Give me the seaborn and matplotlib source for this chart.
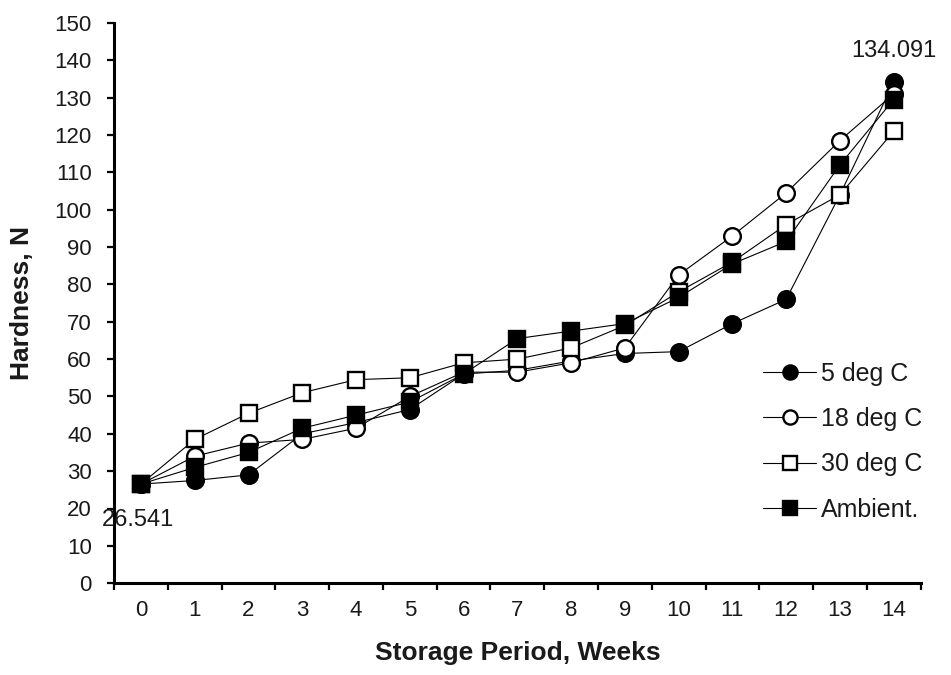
import numpy as np
import pandas as pd
import matplotlib
matplotlib.use('Agg')
import matplotlib.pyplot as plt
import seaborn as sns
from matplotlib.ticker import FixedLocator

weeks = list(range(15))
deg5 = [26.541, 27.5, 29, 40, 43, 46.5, 56, 57, 59.5, 61.5, 62, 69.5, 76, 104, 134.091]
deg18 = [26.541, 34, 37.5, 38.5, 41.5, 50, 56.5, 56.5, 59, 63, 82.5, 93, 104.5, 118.5, 131]
deg30 = [26.541, 38.5, 45.5, 51, 54.5, 55, 59, 60, 63, 69, 78, 86, 96, 104, 121]
ambient = [26.541, 31, 35, 41.5, 45, 48.5, 56, 65.5, 67.5, 69.5, 76.5, 85.5, 91.5, 112, 129.5]

series_names = ['5 deg C', '18 deg C', '30 deg C', 'Ambient.']
series_vals = [deg5, deg18, deg30, ambient]
markers = ['o', 'o', 's', 's']
faces = ['black', 'white', 'white', 'black']

sns.set_style('white')
plt.rcParams['font.family'] = ['Liberation Sans', 'DejaVu Sans']

fig = plt.figure(figsize=(9.51, 6.75), dpi=100)
ax = fig.add_axes([0.120, 0.136, 0.848, 0.830])

for name, vals, m, fc in zip(series_names, series_vals, markers, faces):
    sns.lineplot(x=weeks, y=vals, ax=ax, color='black', linewidth=0.8,
                 marker=m, markersize=12, markerfacecolor=fc,
                 markeredgecolor='black', markeredgewidth=1.7, label=name)

ax.set_xlim(-0.5, 14.5)
ax.set_ylim(0, 150)
ax.set_yticks(np.arange(0, 151, 10))
# excel style: ticks between categories, labels on categories
ax.xaxis.set_major_locator(FixedLocator(np.arange(-0.5, 15, 1)))
ax.xaxis.set_minor_locator(FixedLocator(weeks))
ax.set_xticklabels([])
ax.set_xticklabels([str(w) for w in weeks], minor=True)
ax.tick_params(axis='x', which='major', direction='out', length=5, width=1.6, color='black')
ax.tick_params(axis='x', which='minor', length=0, labelsize=16, pad=12, labelcolor='#1a1a1a')
ax.tick_params(axis='y', direction='out', length=5, width=1.6, color='black',
               labelsize=16, pad=11, labelcolor='#1a1a1a')
ax.tick_params(left=True, bottom=True)

for s in ['top', 'right']:
    ax.spines[s].set_visible(False)
for s in ['left', 'bottom']:
    ax.spines[s].set_color('black')
    ax.spines[s].set_linewidth(2.2)

ax.set_xlabel('Storage Period, Weeks', fontsize=19, fontweight='bold', color='#1a1a1a')
ax.set_ylabel('Hardness, N', fontsize=19, fontweight='bold', color='#1a1a1a')
ax.xaxis.set_label_coords(0.5, -0.103)
ax.yaxis.set_label_coords(-0.099, 0.5)

ax.annotate('134.091', xy=(weeks[-1], deg5[-1]), xytext=(0, 15), textcoords='offset points',
            ha='center', va='bottom', fontsize=17, color='#1a1a1a')
ax.annotate('26.541', xy=(weeks[0], deg5[0]), xytext=(-2, -18), textcoords='offset points',
            ha='center', va='top', fontsize=17, color='#1a1a1a')

leg = ax.legend(loc='upper left', bbox_to_anchor=(0.805, 0.395), frameon=False,
                fontsize=18, handlelength=2.1, handletextpad=0.2, labelspacing=0.85,
                borderaxespad=0, borderpad=0, markerscale=0.85)
for t in leg.get_texts():
    t.set_color('#1a1a1a')

fig.savefig('out.png', dpi=100)
